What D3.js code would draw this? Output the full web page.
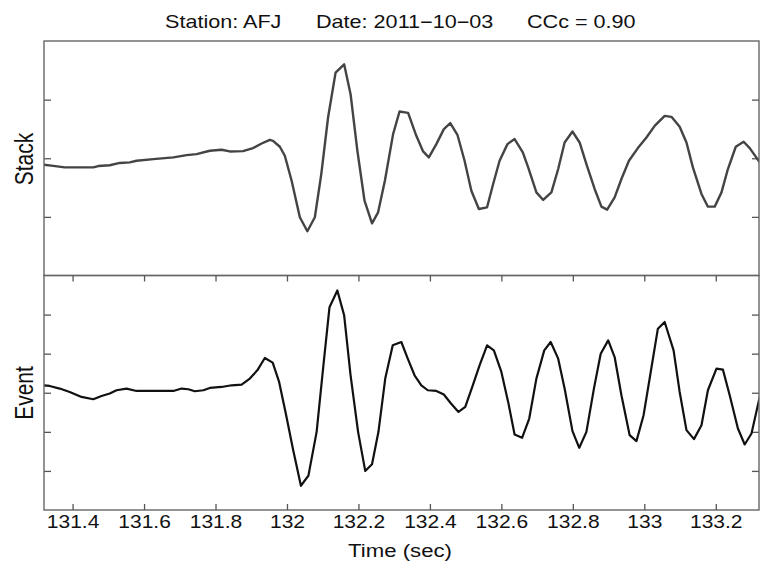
<!DOCTYPE html>
<html>
<head>
<meta charset="utf-8">
<script src="https://cdn.jsdelivr.net/npm/d3@7"></script>
<style>
  body { margin: 0; background: #fff; }
  svg { display: block; }
  text { font-family: "Liberation Sans", Arial, sans-serif; fill: #111; }
</style>
</head>
<body>
<div id="container"></div>
<script>
// [time (s), amplitude]
const stackTrace = [
  [131.318,-0.11],[131.346,-0.13],[131.378,-0.156],[131.458,-0.156],[131.472,-0.133],
  [131.504,-0.12],[131.532,-0.08],[131.560,-0.07],[131.579,-0.043],[131.626,-0.014],
  [131.682,0.014],[131.719,0.054],[131.747,0.071],[131.784,0.128],[131.817,0.145],
  [131.840,0.116],[131.877,0.122],[131.905,0.173],[131.929,0.252],[131.952,0.315],
  [131.961,0.298],[131.980,0.196],[131.994,0.043],[132.013,-0.383],[132.036,-1.007],
  [132.057,-1.245],[132.078,-1.007],[132.096,-0.27],[132.115,0.695],[132.136,1.46],
  [132.160,1.603],[132.178,1.093],[132.197,0.128],[132.217,-0.723],[132.238,-1.11],
  [132.255,-0.922],[132.274,-0.383],[132.297,0.412],[132.315,0.797],[132.339,0.774],
  [132.362,0.383],[132.381,0.116],[132.397,0.014],[132.418,0.241],[132.439,0.497],
  [132.457,0.599],[132.477,0.4],[132.497,-0.043],[132.516,-0.553],[132.537,-0.865],
  [132.560,-0.837],[132.577,-0.44],[132.595,-0.043],[132.617,0.241],[132.637,0.327],
  [132.660,0.1],[132.675,-0.156],[132.698,-0.582],[132.717,-0.711],[132.740,-0.582],
  [132.759,-0.184],[132.777,0.269],[132.799,0.456],[132.819,0.269],[132.838,-0.099],
  [132.861,-0.524],[132.880,-0.826],[132.896,-0.877],[132.917,-0.667],[132.936,-0.354],
  [132.957,-0.043],[132.982,0.173],[133.006,0.354],[133.029,0.553],[133.057,0.723],
  [133.076,0.706],[133.099,0.536],[133.118,0.269],[133.136,-0.156],[133.160,-0.609],
  [133.178,-0.826],[133.197,-0.826],[133.216,-0.582],[133.234,-0.184],[133.256,0.196],
  [133.278,0.281],[133.295,0.173],[133.323,-0.07]
];

const eventTrace = [
  [131.318,0.191],[131.336,0.174],[131.364,0.107],[131.392,0.02],[131.425,-0.107],
  [131.458,-0.166],[131.481,-0.082],[131.504,-0.02],[131.523,0.064],[131.551,0.107],
  [131.579,0.046],[131.682,0.046],[131.705,0.107],[131.724,0.089],[131.742,0.038],
  [131.766,0.064],[131.784,0.123],[131.817,0.148],[131.845,0.191],[131.873,0.209],
  [131.896,0.362],[131.917,0.574],[131.938,0.889],[131.960,0.77],[131.978,0.277],
  [131.996,-0.5],[132.017,-1.45],[132.039,-2.38],[132.060,-2.12],[132.083,-1.0],
  [132.101,0.618],[132.119,2.19],[132.141,2.617],[132.160,1.98],[132.178,0.447],
  [132.199,-1.0],[132.219,-2.0],[132.238,-1.83],[132.256,-1.0],[132.275,0.362],
  [132.296,1.213],[132.320,1.298],[132.338,0.872],[132.357,0.447],[132.376,0.191],
  [132.394,0.064],[132.418,0.046],[132.439,-0.046],[132.459,-0.276],[132.480,-0.49],
  [132.499,-0.362],[132.520,0.191],[132.539,0.702],[132.560,1.213],[132.579,1.085],
  [132.600,0.532],[132.619,-0.234],[132.637,-1.068],[132.658,-1.153],[132.678,-0.66],
  [132.698,0.362],[132.720,1.085],[132.738,1.298],[132.759,0.872],[132.777,0.107],
  [132.799,-0.983],[132.818,-1.409],[132.838,-1.0],[132.859,0.107],[132.878,1.0],
  [132.899,1.34],[132.917,0.914],[132.936,-0.064],[132.959,-1.085],[132.978,-1.238],
  [132.998,-0.574],[133.018,0.532],[133.038,1.639],[133.057,1.81],[133.082,1.085],
  [133.099,0.02],[133.118,-0.957],[133.139,-1.187],[133.160,-0.83],[133.178,0.064],
  [133.202,0.618],[133.220,0.592],[133.239,-0.064],[133.262,-0.914],[133.281,-1.323],
  [133.300,-1.042],[133.323,-0.107]
];

const timeTicks = [131.4, 131.6, 131.8, 132, 132.2, 132.4, 132.6, 132.8, 133, 133.2];
const stackTicks = [-1, 0, 1];
const eventTicks = [-2, -1, 0, 1, 2];
const titleParts = ["Station: AFJ", "Date: 2011\u221210\u221203", "CCc = 0.90"];

const W = 761, H = 569;
const left = 44, right = 759, top1 = 41, mid = 275.5, bot = 510;
const stretch = 1.2; // picture is a bit wider than tall

const svg = d3.select("#container").append("svg")
    .attr("width", W)
    .attr("height", H);

const x = d3.scaleLinear().domain([131.32, 133.321]).range([left, right]);
const yStack = d3.scaleLinear().domain([-2, 2]).range([mid, top1]);
const yEvent = d3.scaleLinear().domain([-3, 3]).range([bot, mid]);

svg.append("defs").append("clipPath").attr("id", "plotclip")
  .append("rect")
    .attr("x", left).attr("y", top1)
    .attr("width", right - left).attr("height", bot - top1);

function drawPanel(yScale, ticks, data, color, width, label, yMid) {
    svg.append("g")
        .attr("transform", `translate(${left},0)`)
        .call(d3.axisLeft(yScale).tickValues(ticks).tickSize(-7).tickFormat(""))
        .call(g => g.select(".domain").remove())
        .selectAll("line").attr("stroke", "#555").attr("stroke-width", 1.3);

    svg.append("g")
        .attr("transform", `translate(${right},0)`)
        .call(d3.axisRight(yScale).tickValues(ticks).tickSize(-7).tickFormat(""))
        .call(g => g.select(".domain").remove())
        .selectAll("line").attr("stroke", "#555").attr("stroke-width", 1.3);

    const line = d3.line().x(d => x(d[0])).y(d => yScale(d[1]));
    svg.append("path")
        .datum(data)
        .attr("clip-path", "url(#plotclip)")
        .attr("fill", "none")
        .attr("stroke", color)
        .attr("stroke-width", width)
        .attr("stroke-linejoin", "round")
        .attr("d", line);

    const r = yScale.range();
    svg.append("rect")
        .attr("x", left).attr("y", r[1])
        .attr("width", right - left).attr("height", r[0] - r[1])
        .attr("fill", "none")
        .attr("stroke", "#666")
        .attr("stroke-width", 1.4);

    svg.append("text")
        .attr("transform", `translate(33,${yMid}) scale(${stretch},1) rotate(-90)`)
        .attr("text-anchor", "middle")
        .style("font-size", "21px")
        .text(label);
}

drawPanel(yStack, stackTicks, stackTrace, "#444", 2.4, "Stack", 159);
drawPanel(yEvent, eventTicks, eventTrace, "#111", 2.2, "Event", 393);

// time ticks on the lower panel, top and bottom edges
svg.append("g")
    .attr("transform", `translate(0,${mid})`)
    .call(d3.axisTop(x).tickValues(timeTicks).tickSize(-6).tickFormat(""))
    .call(g => g.select(".domain").remove())
    .selectAll("line").attr("stroke", "#555").attr("stroke-width", 1.3);

const xAxis = svg.append("g")
    .attr("transform", `translate(0,${bot})`)
    .call(d3.axisBottom(x).tickValues(timeTicks).tickSize(-6)
        .tickFormat(d => String(+d.toFixed(1))));
xAxis.select(".domain").remove();
xAxis.selectAll("line").attr("stroke", "#555").attr("stroke-width", 1.3);
xAxis.selectAll("text")
    .attr("y", 18.5).attr("dy", 0)
    .attr("transform", `scale(${stretch},1)`)
    .attr("fill", "#111")
    .style("font-size", "17.5px")
    .style("font-family", "'Liberation Sans', Arial, sans-serif");

svg.append("text")
    .attr("transform", `translate(400,557) scale(${stretch},1)`)
    .attr("text-anchor", "middle")
    .style("font-size", "18.5px")
    .text("Time (sec)");

// title in three pieces, as spaced in the picture
const titleX = [165, 316, 527];
svg.selectAll(".title")
    .data(titleParts)
  .enter().append("text")
    .attr("class", "title")
    .attr("transform", (d, i) => `translate(${titleX[i]},28) scale(${stretch},1)`)
    .style("font-size", "18px")
    .text(d => d);
</script>
</body>
</html>
